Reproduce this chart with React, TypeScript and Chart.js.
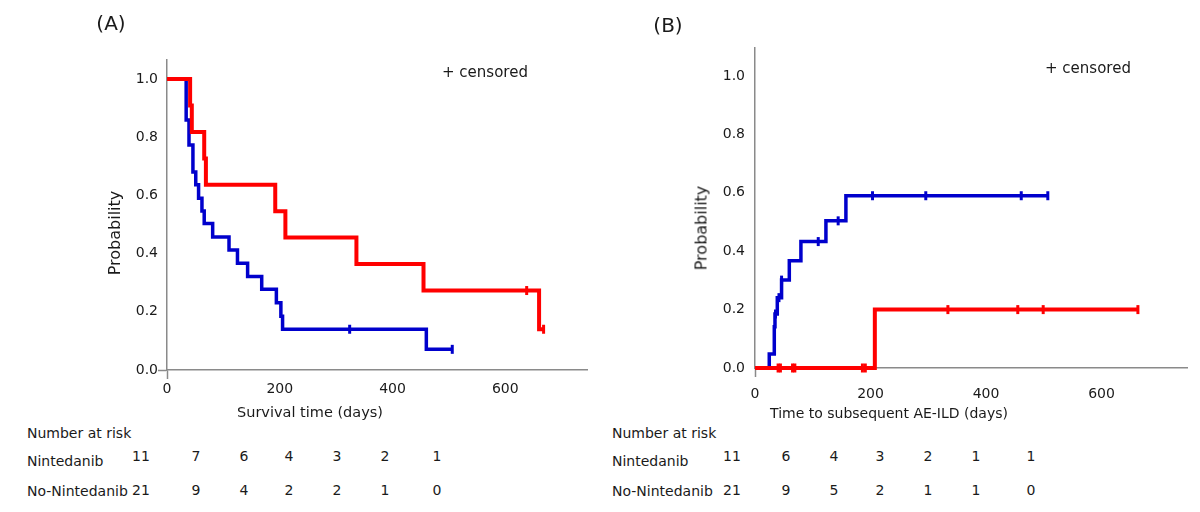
import React, { useEffect, useRef } from "react";
import { Chart, registerables } from "chart.js";

Chart.register(...registerables);

const FONT = "'DejaVu Sans', Verdana, sans-serif";
const TEXT = "#1a1a1a";
const AXIS = "#8a8a8a";
const RED = "#ff0000";
const BLUE = "#0000cc";

// ---------- Panel A: survival (Kaplan-Meier) ----------
const aNinDays = [0, 41, 44, 66, 69, 192, 210, 336, 455, 660, 668];
const aNinProb = [1.0, 0.909, 0.818, 0.727, 0.636, 0.545, 0.455, 0.364, 0.273, 0.14, 0.14];
const aNinCensorDays = [638, 668];
const aNinCensorProb = [0.273, 0.14];

const aNoDays = [0, 34, 39, 46, 51, 56, 62, 66, 81, 110, 125, 143, 168, 194, 202, 205, 460, 506];
const aNoProb = [1.0, 0.859, 0.773, 0.68, 0.636, 0.59, 0.546, 0.503, 0.457, 0.412, 0.367, 0.321, 0.277, 0.231, 0.185, 0.14, 0.071, 0.071];
const aNoCensorDays = [324, 506];
const aNoCensorProb = [0.14, 0.071];

// ---------- Panel B: time to subsequent AE-ILD (cumulative incidence) ----------
const bNinDays = [0, 207.5, 663];
const bNinProb = [0, 0.2, 0.2];
const bNinCensorDays = [40, 44, 65, 69, 186, 191, 334, 455, 499, 663];
const bNinCensorProb = [0, 0, 0, 0, 0, 0, 0.2, 0.2, 0.2, 0.2];

const bNoDays = [0, 24.7, 33.4, 34.6, 38.6, 46, 59.4, 79.5, 122.8, 157.4, 507];
const bNoProb = [0, 0.048, 0.141, 0.185, 0.241, 0.301, 0.367, 0.433, 0.504, 0.59, 0.59];
const bNoCensorDays = [35.5, 41.5, 46, 109.5, 144, 203.5, 295.7, 461, 507];
const bNoCensorProb = [0.185, 0.241, 0.301, 0.433, 0.504, 0.59, 0.59, 0.59, 0.59];

// ---------- Number at risk ----------
const groupLabels = ["Nintedanib", "No-Nintedanib"];
const aRiskNin = [11, 7, 6, 4, 3, 2, 1];
const aRiskNo = [21, 9, 4, 2, 2, 1, 0];
const bRiskNin = [11, 6, 4, 3, 2, 1, 1];
const bRiskNo = [21, 9, 5, 2, 1, 1, 0];

const xTicksStep = 200;
const yTicksStep = 0.2;

// layout (pixel positions of the risk-table columns)
const aRiskCols = [141, 196, 244, 289, 337, 385, 437];
const bRiskCols = [732, 786, 834, 880, 928, 976, 1031];

function pts(xs: number[], ys: number[]) {
  return xs.map((x, i) => ({ x, y: ys[i] }));
}

function stepDs(xs: number[], ys: number[], color: string, width: number, order: number) {
  return {
    type: "line" as const,
    data: pts(xs, ys),
    borderColor: color,
    borderWidth: width,
    stepped: "before" as const,
    pointRadius: 0,
    fill: false,
    tension: 0,
    clip: false,
    order,
    borderCapStyle: "butt" as const,
    borderJoinStyle: "miter" as const,
  };
}

function censorDs(xs: number[], ys: number[], color: string, order: number) {
  return {
    type: "scatter" as const,
    data: pts(xs, ys),
    showLine: false,
    clip: false,
    order,
    borderColor: color,
    backgroundColor: color,
    pointBorderColor: color,
    pointBackgroundColor: color,
    pointStyle: "line" as const,
    pointRotation: 90,
    pointRadius: 4.5,
    pointBorderWidth: 3,
  };
}

type PanelCfg = {
  datasets: any[];
  xMax: number;
  yMax: number;
  yWidth: number;
  padTop: number;
  padRight: number;
  xHeight: number;
  xPad: number;
  xTick: boolean;
  yTick: boolean;
  yPad: number;
};

function makeConfig(p: PanelCfg): any {
  const tickCol = (ctx: any) => (ctx.tick && Math.abs(ctx.tick.value) < 1e-9 ? AXIS : "rgba(0,0,0,0)");
  return {
    type: "line",
    data: { datasets: p.datasets },
    options: {
      animation: false,
      responsive: false,
      devicePixelRatio: 1,
      events: [],
      layout: { padding: { left: 0, right: p.padRight, top: p.padTop, bottom: 0 } },
      plugins: { legend: { display: false }, tooltip: { enabled: false }, title: { display: false } },
      scales: {
        x: {
          type: "linear",
          min: 0,
          max: p.xMax,
          ticks: {
            stepSize: xTicksStep,
            includeBounds: false,
            font: { family: FONT, size: 14 },
            color: TEXT,
            padding: p.xPad,
            maxRotation: 0,
          },
          grid: {
            display: true,
            drawOnChartArea: false,
            drawTicks: p.xTick,
            tickLength: 9,
            tickWidth: 1.5,
            tickColor: tickCol,
          },
          border: { display: true, color: AXIS, width: 1.5 },
          afterFit: (s: any) => {
            s.height = p.xHeight;
          },
        },
        y: {
          type: "linear",
          min: 0,
          max: p.yMax,
          ticks: {
            stepSize: yTicksStep,
            includeBounds: false,
            font: { family: FONT, size: 14 },
            color: TEXT,
            padding: p.yPad,
            callback: (v: any) => Number(v).toFixed(1),
          },
          grid: {
            display: true,
            drawOnChartArea: false,
            drawTicks: p.yTick,
            tickLength: 9,
            tickWidth: 1.5,
            tickColor: tickCol,
          },
          border: { display: true, color: AXIS, width: 1.5 },
          afterFit: (s: any) => {
            s.width = p.yWidth;
          },
        },
      },
    },
  };
}

function Panel({ left, width, height, cfg }: { left: number; width: number; height: number; cfg: PanelCfg }) {
  const ref = useRef<HTMLCanvasElement | null>(null);
  useEffect(() => {
    if (!ref.current) return;
    const chart = new Chart(ref.current, makeConfig(cfg));
    return () => chart.destroy();
  }, []);
  return (
    <canvas
      ref={ref}
      width={width}
      height={height}
      style={{ position: "absolute", left, top: 0, width, height }}
    />
  );
}

const T = (props: {
  x: number;
  y: number;
  size?: number;
  anchor?: "left" | "center";
  rotate?: boolean;
  children: React.ReactNode;
}) => {
  const { x, y, size = 14, anchor = "left", rotate = false } = props;
  let transform = anchor === "center" ? "translate(-50%,-50%)" : "translate(0,-50%)";
  if (rotate) transform = "translate(-50%,-50%) rotate(-90deg)";
  return (
    <div
      style={{
        position: "absolute",
        left: x,
        top: y,
        transform,
        fontFamily: FONT,
        fontSize: size,
        lineHeight: `${Math.round(size * 1.2)}px`,
        color: TEXT,
        whiteSpace: "nowrap",
      }}
    >
      {props.children}
    </div>
  );
};

export default function App() {
  // lower "order" is drawn on top: red (Nintedanib) above blue
  const cfgA: PanelCfg = {
    datasets: [
      stepDs(aNinDays, aNinProb, RED, 4, 1),
      censorDs(aNinCensorDays, aNinCensorProb, RED, 0),
      stepDs(aNoDays, aNoProb, BLUE, 3.5, 3),
      censorDs(aNoCensorDays, aNoCensorProb, BLUE, 2),
    ],
    xMax: 745,
    yMax: 1.065,
    yWidth: 167,
    padTop: 60,
    padRight: 13,
    xHeight: 52,
    xPad: 2,
    xTick: true,
    yTick: true,
    yPad: 0,
  };
  const cfgB: PanelCfg = {
    datasets: [
      stepDs(bNinDays, bNinProb, RED, 4, 1),
      censorDs(bNinCensorDays, bNinCensorProb, RED, 0),
      stepDs(bNoDays, bNoProb, BLUE, 3.5, 3),
      censorDs(bNoCensorDays, bNoCensorProb, BLUE, 2),
    ],
    xMax: 748,
    yMax: 1.096,
    yWidth: 155,
    padTop: 48,
    padRight: 13,
    xHeight: 52,
    xPad: 9,
    xTick: true,
    yTick: false,
    yPad: 10,
  };

  const riskRows = (cols: number[], rows: number[][], labelX: number) => (
    <>
      <T x={labelX} y={433}>Number at risk</T>
      <T x={labelX} y={461}>{groupLabels[0]}</T>
      <T x={labelX} y={491}>{groupLabels[1]}</T>
      {rows[0].map((v, i) => (
        <T key={"r0" + i} x={cols[i]} y={456} anchor="center">
          {v}
        </T>
      ))}
      {rows[1].map((v, i) => (
        <T key={"r1" + i} x={cols[i]} y={490} anchor="center">
          {v}
        </T>
      ))}
    </>
  );

  return (
    <div
      style={{
        position: "absolute",
        left: 0,
        top: 0,
        width: 1200,
        height: 512,
        background: "#ffffff",
        overflow: "hidden",
      }}
    >
      <Panel left={0} width={600} height={422} cfg={cfgA} />
      <Panel left={600} width={600} height={420} cfg={cfgB} />

      <T x={111} y={23} size={20} anchor="center">(A)</T>
      <T x={668} y={25} size={20} anchor="center">(B)</T>

      <T x={442} y={72} size={15}>+ censored</T>
      <T x={1045} y={68} size={15}>+ censored</T>

      <T x={114} y={233} size={16} rotate>Probability</T>
      <T x={701} y={228} size={16} rotate>Probability</T>

      <T x={310} y={412} size={14.5} anchor="center">Survival time (days)</T>
      <T x={889} y={413} size={14} anchor="center">Time to subsequent AE-ILD (days)</T>

      {riskRows(aRiskCols, [aRiskNin, aRiskNo], 27)}
      {riskRows(bRiskCols, [bRiskNin, bRiskNo], 612)}
    </div>
  );
}
